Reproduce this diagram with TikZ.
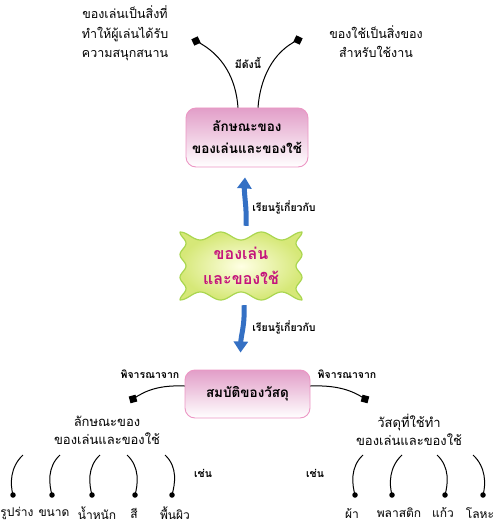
\documentclass[tikz,border=0pt]{standalone}
\usepackage{fontspec}
\setmainfont[Script=Thai]{Loma}
\usetikzlibrary{arrows.meta,positioning}
\definecolor{boxpink}{RGB}{226,158,200}
\definecolor{boxedge}{RGB}{236,150,196}
\definecolor{wavyfill}{RGB}{214,232,120}
\definecolor{wavycore}{RGB}{255,255,228}
\definecolor{wavyedge}{RGB}{170,214,80}
\definecolor{arrowblue}{RGB}{52,112,196}
\definecolor{toymag}{RGB}{196,20,124}

\begin{document}
\begin{tikzpicture}[x=1pt,y=-1pt,
    pinkbox/.style={rectangle,rounded corners=10pt,draw=boxedge,line width=0.9pt,
      top color=boxpink,bottom color=white,inner sep=0pt,align=center,
      font=\fontsize{13.5}{22}\selectfont\bfseries},
    plaintext/.style={font=\fontsize{12.5}{19.5}\selectfont,align=center,inner sep=0pt},
    tag/.style={font=\fontsize{10.5}{12}\selectfont\bfseries,inner sep=0pt},
    endsq/.style={rectangle,fill=black,minimum size=7pt,inner sep=0pt},
    enddot/.style={circle,fill=black,minimum size=5.5pt,inner sep=0pt},
    link/.style={line width=1pt},
    bigarrow/.style={line width=5pt,arrowblue,-{Triangle[width=14pt,length=11pt]}},
    item/.style={font=\fontsize{12}{14}\selectfont,inner sep=0pt}]
  \useasboundingbox (0,0) rectangle (500,526);

  % wavy centre shape
  \shadedraw[inner color=wavycore,outer color=wavyfill,draw=wavyedge,line width=1.2pt,line join=round]
    plot[domain=0:1,samples=61] ({180+122*\x},{236-4*cos(1080*\x)})
    -- plot[domain=0:1,samples=41] ({299+3*cos(1080*\x)},{232+68*\x})
    -- plot[domain=0:1,samples=61] ({302-122*\x},{296+4*cos(1080*\x)})
    -- plot[domain=0:1,samples=41] ({183-3*cos(1080*\x)},{300-68*\x}) -- cycle;
  \node[minimum width=122pt,minimum height=68pt,inner sep=0pt,align=center,text=toymag,
    font=\fontsize{16}{25}\selectfont\bfseries] (toys) at (241,266) {ของเล่น\\และของใช้};

  % boxes
  \node[pinkbox,minimum width=122pt,minimum height=59pt] (trait) at (247,137.5) {ลักษณะของ\\ของเล่นและของใช้};
  \node[pinkbox,minimum width=125pt,minimum height=48pt] (matter) at (247.5,394) {สมบัติของวัสดุ};

  % texts
  \node[plaintext] (fun) at (125,33.5) {ของเล่นเป็นสิ่งที่\\ทำให้ผู้เล่นได้รับ\\ความสนุกสนาน};
  \node[plaintext] (use) at (376,41.5) {ของใช้เป็นสิ่งของ\\สำหรับใช้งาน};
  \node[plaintext,font=\fontsize{13}{18}\selectfont] (traitB) at (107,430) {ลักษณะของ\\ของเล่นและของใช้};
  \node[plaintext,font=\fontsize{13}{18}\selectfont] (matB) at (409,429.5) {วัสดุที่ใช้ทำ\\ของเล่นและของใช้};

  % square ends
  \node[endsq,rotate=25] (sqA) at (196,41) {};
  \node[endsq,rotate=-25] (sqB) at (298,40) {};
  \node[endsq,rotate=15] (sqC) at (133,399) {};
  \node[endsq,rotate=-15] (sqD) at (365,399) {};

  \draw[link] ([xshift=-9pt]trait.north) .. controls (236,80) and (224,55) .. (sqA.center);
  \draw[link] ([xshift=11pt]trait.north) .. controls (260,80) and (272,52) .. (sqB.center);
  \draw[link] ([yshift=8pt]matter.west) .. controls (160,385) and (146,390) .. (sqC.center);
  \draw[link] ([yshift=8pt]matter.east) .. controls (336,385) and (352,390) .. (sqD.center);

  % blue arrows
  \draw[bigarrow] ([xshift=5pt,yshift=6pt]toys.north) .. controls (247,208) and (244,195)
    .. ([xshift=-2pt,yshift=-10pt]trait.south);
  \draw[bigarrow] ([xshift=3pt,yshift=-5pt]toys.south) .. controls (245,325) and (241,335)
    .. ([xshift=-7pt,yshift=17pt]matter.north);

  % small labels
  \node[tag] (hasTag) at (248,63) {มีดังนี้};
  \node[tag] (learnUp) at (284,207) {เรียนรู้เกี่ยวกับ};
  \node[tag] (learnDown) at (284,327) {เรียนรู้เกี่ยวกับ};
  \node[tag] (viewA) at (150,374) {พิจารณาจาก};
  \node[tag] (viewB) at (347,374) {พิจารณาจาก};
  \node[tag] (egA) at (203,473) {เช่น};
  \node[tag] (egB) at (315,473) {เช่น};

  % examples with curved ticks
  \foreach \t/\d/\l/\s/\name [count=\i] in {23/13/17/-1/รูปร่าง, 60/52/54/-1/ขนาด,
      100/92/97/-1/น้ำหนัก, 127/135/134/1/สี, 165/172/175/1/พื้นผิว,
      363/355/352/-1/ผ้า, 402/392/399/-1/พลาสติก, 437/445/443/1/แก้ว, 473/483/480/1/โลหะ} {
    \coordinate (top\i) at (\t,455);
    \node[enddot] (dot\i) at (\d,495) {};
    \node[item] (item\i) at (\l,513) {\name};
    \draw[link] (top\i) .. controls (\t+\s*13,467) and (\d+\s*3,484) .. (dot\i.center);
  }
\end{tikzpicture}
\end{document}
